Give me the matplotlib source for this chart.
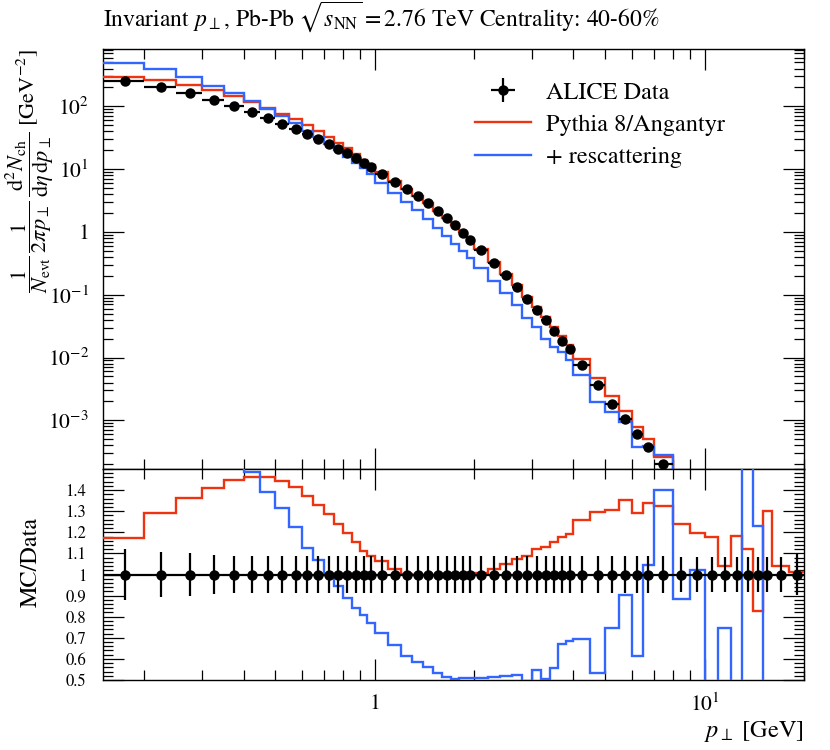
import numpy as np
import matplotlib
matplotlib.use("Agg")
import matplotlib.pyplot as plt
from matplotlib.ticker import LogLocator, FixedLocator, FuncFormatter, NullFormatter, MultipleLocator
from matplotlib.lines import Line2D

# ---------------- data ----------------
bin_edges = [0.15, 0.20, 0.25, 0.30, 0.35, 0.40, 0.45, 0.50, 0.55, 0.60, 0.65, 0.70,
             0.75, 0.80, 0.85, 0.90, 0.95, 1.0, 1.1, 1.2, 1.3, 1.4, 1.5, 1.6, 1.7,
             1.8, 1.9, 2.0, 2.2, 2.4, 2.6, 2.8, 3.0, 3.2, 3.4, 3.6, 3.8, 4.0, 4.5,
             5.0, 5.5, 6.0, 6.5, 7.0, 8.0, 9.0, 10.0, 11.0, 12.0, 13.0, 14.0, 15.0,
             16.0, 18.0, 20.0]

alice_data = [250, 204, 163, 128, 100, 81.4, 65.3, 53.0, 43.8, 36.2, 30.2, 25.2,
              21.0, 17.9, 15.1, 12.7, 10.9, 8.48, 6.3, 4.85, 3.75, 2.85, 2.17, 1.66,
              1.27, 0.98, 0.755, 0.523, 0.321, 0.204, 0.133, 0.0857, 0.0565, 0.0391,
              0.0261, 0.0186, 0.0135, 0.0075, 0.0036, 0.00185, 0.00106, 0.000614,
              0.000377, 0.000200, 1.0e-4, 5.8e-5, 3.7e-5, 2.5e-5, 1.7e-5, 1.2e-5,
              8.7e-6, 6.4e-6, 4.3e-6, 2.6e-6]

alice_relerr = [0.123, 0.107, 0.100, 0.092, 0.088, 0.087, 0.087, 0.087, 0.087, 0.087,
                0.087, 0.087, 0.087, 0.087, 0.087, 0.087, 0.087, 0.087, 0.087, 0.087,
                0.087, 0.087, 0.087, 0.087, 0.087, 0.087, 0.087, 0.087, 0.087, 0.087,
                0.087, 0.087, 0.087, 0.087, 0.087, 0.087, 0.087, 0.087, 0.087, 0.087,
                0.087, 0.087, 0.087, 0.087, 0.085, 0.085, 0.085, 0.085, 0.085, 0.085,
                0.085, 0.085, 0.085, 0.096]

# MC / data ratios
pythia_ratio = [1.174, 1.290, 1.361, 1.412, 1.448, 1.461, 1.461, 1.444, 1.414, 1.374,
                1.330, 1.287, 1.240, 1.195, 1.152, 1.111, 1.087, 1.065, 1.028, 1.003,
                1.000, 0.998, 0.999, 1.001, 1.002, 1.003, 1.004, 1.008, 1.028, 1.050,
                1.072, 1.086, 1.120, 1.128, 1.156, 1.178, 1.193, 1.260, 1.295, 1.307,
                1.351, 1.291, 1.339, 1.323, 1.240, 1.197, 1.178, 1.040, 1.182, 1.120,
                0.827, 1.303, 1.041, 1.014]

rescatt_ratio = [1.96, 1.93, 1.78, 1.67, 1.63, 1.485, 1.393, 1.314, 1.223, 1.124,
                 1.067, 0.998, 0.945, 0.889, 0.842, 0.810, 0.768, 0.721, 0.668, 0.616,
                 0.587, 0.562, 0.531, 0.516, 0.507, 0.511, 0.509, 0.510, 0.514, 0.520,
                 0.522, 0.497, 0.547, 0.505, 0.558, 0.670, 0.683, 0.693, 0.535, 0.746,
                 0.901, 0.614, 1.045, 1.402, 0.883, 1.020, 0.40, 0.745, 0.40, 1.60,
                 1.231, 0.40, 0.30, 0.30]

labels = ["ALICE Data", "Pythia 8/Angantyr", "+ rescattering"]
title = r"Invariant $p_\perp$, Pb-Pb $\sqrt{s_{\mathrm{NN}}} = 2.76$ TeV Centrality: 40-60%"

# ---------------- style ----------------
plt.rcParams['font.family'] = ['STIXGeneral', 'DejaVu Serif']
plt.rcParams['mathtext.fontset'] = 'stix'

RED = '#ee3311'
BLUE = '#3366ff'

edges = np.array(bin_edges)
centers = 0.5 * (edges[:-1] + edges[1:])
halfw = 0.5 * (edges[1:] - edges[:-1])
data = np.array(alice_data)
relerr = np.array(alice_relerr)
r_py = np.array(pythia_ratio)
r_rs = np.array(rescatt_ratio)
mc_py = data * r_py
mc_rs = data * r_rs

W, H = 830, 750
fig = plt.figure(figsize=(W / 100, H / 100), dpi=100)
L, R = 103, 804
T, M, B = 49, 469, 680
ax = fig.add_axes([L / W, 1 - M / H, (R - L) / W, (M - T) / H])
rax = fig.add_axes([L / W, 1 - B / H, (R - L) / W, (B - M) / H], sharex=ax)

# main panel
ax.stairs(mc_py, edges, baseline=None, color=RED, lw=1.7, zorder=3)
ax.stairs(mc_rs, edges, baseline=None, color=BLUE, lw=1.7, zorder=3)
hd = ax.errorbar(centers, data, xerr=halfw, yerr=data * relerr, fmt='o', color='black',
                 ms=6.5, elinewidth=1.6, capsize=0, zorder=5)
ax.set_xscale('log')
ax.set_yscale('log')
ax.set_xlim(0.15, 20)
ax.set_ylim(1.68e-4, 820)

h_py = Line2D([], [], color=RED, lw=1.7)
h_rs = Line2D([], [], color=BLUE, lw=1.7)
ax.legend([hd, h_py, h_rs], labels, loc='upper left', bbox_to_anchor=(0.531, 0.922),
          frameon=False, fontsize=17.5, handlelength=2.3, handletextpad=0.6,
          labelspacing=0.42, borderpad=0, borderaxespad=0)

# ratio panel
rax.stairs(r_py, edges, baseline=None, color=RED, lw=1.7, zorder=3)
rax.stairs(r_rs, edges, baseline=None, color=BLUE, lw=1.7, zorder=3)
rax.errorbar(centers, np.ones_like(centers), xerr=halfw, yerr=relerr, fmt='o', color='black',
             ms=6.5, elinewidth=1.6, capsize=0, zorder=5)
rax.set_ylim(0.5, 1.5)
rax.set_xlim(0.15, 20)


def logfmt(v, pos):
    e = int(round(np.log10(v)))
    if e == 0:
        return "1"
    return r"$10^{%d}$" % e


ax.yaxis.set_major_locator(LogLocator(base=10, numticks=20))
ax.yaxis.set_minor_locator(LogLocator(base=10, subs=np.arange(2, 10), numticks=50))
ax.yaxis.set_major_formatter(FuncFormatter(logfmt))
ax.yaxis.set_minor_formatter(NullFormatter())
ax.xaxis.set_major_locator(LogLocator(base=10, numticks=20))
ax.xaxis.set_minor_locator(LogLocator(base=10, subs=np.arange(2, 10), numticks=50))
ax.xaxis.set_major_formatter(FuncFormatter(logfmt))
ax.xaxis.set_minor_formatter(NullFormatter())
ax.tick_params(axis='x', labelbottom=False)

rax.yaxis.set_major_locator(FixedLocator([0.5, 0.6, 0.7, 0.8, 0.9, 1.0, 1.1, 1.2, 1.3, 1.4]))
rax.yaxis.set_minor_locator(MultipleLocator(0.02))
rax.yaxis.set_major_formatter(FuncFormatter(lambda v, p: "1" if abs(v - 1) < 1e-6 else "%.1f" % v))

for a in (ax, rax):
    a.tick_params(which='both', direction='in', top=True, right=True, width=0.9, colors='black')
    a.tick_params(which='major', length=15, labelsize=15.5, pad=10)
    a.tick_params(which='minor', length=7)
    for s in a.spines.values():
        s.set_linewidth(1.0)
rax.tick_params(axis='y', which='major', labelsize=12, pad=12)

ax.set_ylabel(r"$\dfrac{1}{N_{\mathrm{evt}}}\,\dfrac{1}{2\pi p_\perp}\,\dfrac{\mathrm{d}^2N_{\mathrm{ch}}}{\mathrm{d}\eta\,\mathrm{d}p_\perp}$ [GeV$^{-2}$]",
              loc='top', fontsize=16)
ax.yaxis.set_label_coords(-0.066, 1.0)
rax.set_ylabel("MC/Data", fontsize=17.5)
rax.yaxis.set_label_coords(-0.088, 0.56)

fig.text(L / W, 1 - 26 / H, title, fontsize=17, ha='left', va='baseline')
fig.text(R / W, 1 - 737 / H, r"$p_\perp$ [GeV]", fontsize=17.5, ha='right', va='baseline')

fig.savefig("out.png", dpi=100)
